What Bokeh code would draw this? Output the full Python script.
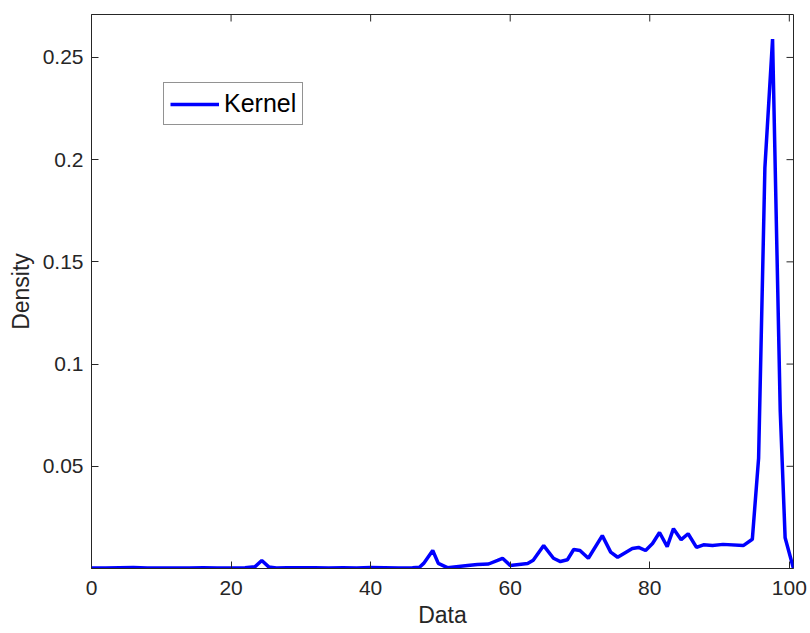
import math
from bokeh.plotting import figure
from bokeh.models import FixedTicker, Range1d
from bokeh.embed import file_html
from bokeh.resources import INLINE

# Kernel density estimate
data_x = [0, 2, 4, 6, 8, 10, 12, 14, 16, 18, 20, 22, 23.4, 24.4, 25.4, 26.5, 28, 30, 32, 34,
          36, 38, 40, 42, 44, 46, 47, 47.6, 48.9, 49.7, 51, 53.9, 55.3, 56.9, 58.2, 58.9, 60,
          62.5, 63.3, 64.8, 66.2, 67.2, 68.2, 69.1, 70, 71.2, 73.2, 74.4, 75.4, 77.5, 78.4,
          79.4, 80.4, 81.4, 82.5, 83.4, 84.5, 85.5, 86.7, 87.7, 89, 90.5, 93.4, 94.7, 95.6,
          96.5, 97.6, 98.7, 99.4, 100.6]
density = [0.0003, 0.0003, 0.0004, 0.0005, 0.0003, 0.0003, 0.0003, 0.0003, 0.0004, 0.0003,
           0.0003, 0.0004, 0.0008, 0.0039, 0.0008, 0.0003, 0.0004, 0.0004, 0.0004, 0.0003,
           0.0004, 0.0003, 0.0005, 0.0004, 0.0003, 0.0004, 0.0006, 0.0025, 0.0088, 0.0025,
           0.0004, 0.0015, 0.0020, 0.0022, 0.0040, 0.0050, 0.0015, 0.0024, 0.0040, 0.0112,
           0.0050, 0.0034, 0.0043, 0.0093, 0.0088, 0.0050, 0.0161, 0.0080, 0.0055, 0.0098,
           0.0103, 0.0088, 0.0122, 0.0176, 0.0107, 0.0195, 0.0141, 0.0170, 0.0103, 0.0116,
           0.0113, 0.0118, 0.0112, 0.0143, 0.0540, 0.1960, 0.2590, 0.0770, 0.0150, 0.0]

x_ticks = [0, 20, 40, 60, 80, 100]
y_ticks = [0.05, 0.1, 0.15, 0.2, 0.25]
y_tick_labels = ["0.05", "0.1", "0.15", "0.2", "0.25"]
series_name = "Kernel"

X_MIN, X_MAX = 0, 100.6
Y_MIN, Y_MAX = 0, 0.271

AX = "#262626"
FONT = "Liberation Sans"

p = figure(width=810, height=633, output_backend="svg", toolbar_location=None,
           x_range=Range1d(X_MIN, X_MAX), y_range=Range1d(Y_MIN, Y_MAX),
           min_border_left=91, min_border_right=17, min_border_top=14, min_border_bottom=65)
p.background_fill_color = "white"
p.border_fill_color = "white"
p.outline_line_color = AX
p.outline_line_width = 1
p.xgrid.visible = False
p.ygrid.visible = False

# mirrored tick marks on the top and right edges of the box (half clipped by the frame)
p.scatter(x=x_ticks, y=[Y_MAX] * len(x_ticks), marker="dash", size=14, angle=math.pi / 2,
          line_color=AX, line_width=1)
p.scatter(x=[X_MAX] * len(y_ticks), y=y_ticks, marker="dash", size=14,
          line_color=AX, line_width=1)

p.line(data_x, density, line_color="#0000FF", line_width=3.5, legend_label=series_name)

xa = p.xaxis[0]
ya = p.yaxis[0]
xa.ticker = FixedTicker(ticks=x_ticks)
ya.ticker = FixedTicker(ticks=y_ticks)
ya.major_label_overrides = {t: l for t, l in zip(y_ticks, y_tick_labels)}
for ax in (xa, ya):
    ax.axis_line_color = AX
    ax.major_tick_line_color = AX
    ax.major_tick_in = 7
    ax.major_tick_out = 0
    ax.minor_tick_line_color = None
    ax.major_label_text_font = FONT
    ax.major_label_text_font_size = "21px"
    ax.major_label_text_color = AX
    ax.axis_label_text_font = FONT
    ax.axis_label_text_font_size = "23px"
    ax.axis_label_text_font_style = "normal"
    ax.axis_label_text_color = AX
xa.axis_label = "Data"
ya.axis_label = "Density"
xa.major_label_standoff = 12
ya.major_label_standoff = 8
xa.axis_label_standoff = 4
ya.axis_label_standoff = 6

lg = p.legend[0]
lg.location = (72, 443)
lg.border_line_color = AX
lg.border_line_width = 1
lg.background_fill_color = "white"
lg.background_fill_alpha = 1
lg.padding = 6
lg.margin = 0
lg.glyph_width = 49
lg.glyph_height = 26
lg.label_height = 26
lg.label_standoff = 5
lg.label_text_font = FONT
lg.label_text_font_size = "25px"
lg.label_text_color = "black"

open("out.html", "w").write(file_html(p, INLINE))
